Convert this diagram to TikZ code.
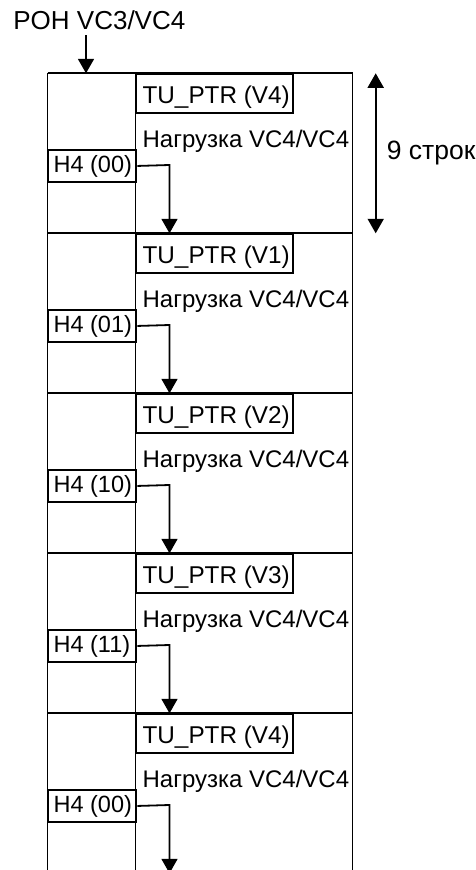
\documentclass[tikz,border=0pt]{standalone}
\usepackage{fontspec}
\setmainfont{Liberation Sans}
\usetikzlibrary{arrows.meta}
\begin{document}
\begin{tikzpicture}[x=1pt,y=-1pt,line width=1.8pt,
  txt/.style={anchor=base west,inner sep=0pt,font=\fontsize{24}{28}\selectfont},
  arr/.style={-{Triangle[width=16pt,length=14.5pt]}},
  dblarr/.style={{Triangle[width=16pt,length=14.5pt]}-{Triangle[width=16pt,length=14.5pt]}},
  tubox/.style={draw,rectangle,inner sep=0pt,anchor=north west,minimum width=156.8pt,minimum height=39pt},
  hbox/.style={draw,rectangle,inner sep=0pt,anchor=north west,minimum width=88pt,minimum height=31.5pt}]
\useasboundingbox (0,0) rectangle (475,870);
\clip (0,0) rectangle (475,870);
% outer columns
\coordinate (L0) at (47.5,73.3);
\coordinate (M0) at (135.5,73.3);
\coordinate (R0) at (352.5,73.3);
\coordinate (Lb) at (47.5,890);
\coordinate (Mb) at (135.5,890);
\coordinate (Rb) at (352.5,890);
\draw (L0) -- (Lb);
\draw (M0) -- (Mb);
\draw (R0) -- (Rb);
% POH label
\node[txt,font=\fontsize{26}{30}\selectfont] (poh) at (12.5,29.3) {POH VC3/VC4};
\coordinate (pohs) at (86,35);
\coordinate (pohe) at (86,73.3);
\draw[arr] (pohs) -- (pohe);
% 9 rows
\coordinate (nt) at (375.7,73.3);
\coordinate (nb) at (375.7,233.3);
\draw[dblarr] (nt) -- (nb);
\node[txt,font=\fontsize{26.5}{30}\selectfont] (rows) at (386,159.3) {9 строк};
% frames
\foreach \i/\v/\h in {0/V4/00,1/V1/01,2/V2/10,3/V3/11,4/V4/00}{
  \pgfmathsetmacro{\T}{73.3+160*\i}
  \coordinate (fl\i) at (47.5,\T);
  \coordinate (fr\i) at (352.5,\T);
  \draw (fl\i) -- (fr\i);
  \node[tubox] (tu\i) at (135.5,\T) {};
  \node[txt,font=\fontsize{24.3}{28}\selectfont] (tut\i) at (141.7,\T+30) {TU\_PTR (\v)};
  \node[txt] (pl\i) at (141.7,\T+73.8) {Нагрузка VC4/VC4};
  \node[hbox] (h\i) at (47.5,\T+76) {};
  \node[txt,font=\fontsize{23.5}{28}\selectfont] (ht\i) at (52.7,\T+99.3) {H4 (\h)};
  \coordinate (bend\i) at (169.5,\T+91.7);
  \coordinate (end\i) at (169.5,\T+160);
  \draw[arr] (h\i.east) -- (bend\i) -- (end\i);
}
\end{tikzpicture}
\end{document}
